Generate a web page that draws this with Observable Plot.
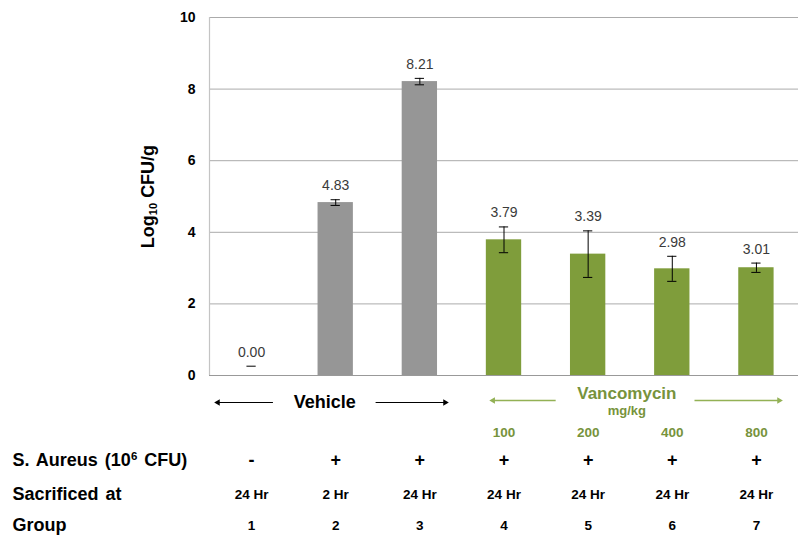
<!DOCTYPE html>
<html>
<head>
<meta charset="utf-8">
<script src="https://cdn.jsdelivr.net/npm/d3@7"></script>
<script src="https://cdn.jsdelivr.net/npm/@observablehq/plot@0.6"></script>
<style>
  html, body { margin: 0; padding: 0; background: #fff; }
  svg { font-family: "Liberation Sans", Arial, sans-serif; }
</style>
</head>
<body>
<div id="chart"></div>
<script>
// ---- data ----
const groups = [1, 2, 3, 4, 5, 6, 7];
const values = [0.00, 4.83, 8.21, 3.79, 3.39, 2.98, 3.01];
const errors = [0.26, 0.08, 0.09, 0.36, 0.65, 0.35, 0.13];
const treatment = ["Vehicle", "Vehicle", "Vehicle", "Vancomycin", "Vancomycin", "Vancomycin", "Vancomycin"];
const doses = ["", "", "", "100", "200", "400", "800"];
const infection = ["-", "+", "+", "+", "+", "+", "+"];
const sacrificed = ["24 Hr", "2 Hr", "24 Hr", "24 Hr", "24 Hr", "24 Hr", "24 Hr"];
const yTicks = [0, 2, 4, 6, 8, 10];
const rowLabels = ["S. Aureus (10^6 CFU)", "Sacrificed at", "Group"];
const yLabel = "Log10 CFU/g";

const data = groups.map((g, i) => ({
  g, value: values[i], err: errors[i], treatment: treatment[i],
  dose: doses[i], infection: infection[i], sacrificed: sacrificed[i]
}));

const GRAY = "#969696", GREEN = "#7f9d3b", GREEN_TXT = "#77933c", GREEN_ARROW = "#93b155";
const halfBar = 0.21, halfCap = 0.055;
const below = {frameAnchor: "bottom", lineAnchor: "middle", textAnchor: "middle", fontWeight: "bold"};

const chart = Plot.plot({
  width: 798,
  height: 536,
  marginLeft: 209,
  marginRight: 0,
  marginTop: 17,
  marginBottom: 161,
  style: {fontFamily: "Liberation Sans, Arial, sans-serif", background: "#fff"},
  x: {type: "linear", domain: [0.5, 7.5], axis: null},
  y: {domain: [0, 10], axis: null},
  color: {domain: ["Vehicle", "Vancomycin"], range: [GRAY, GREEN]},
  marks: [
    Plot.ruleY(yTicks.filter(t => t > 0), {stroke: "#ababab", strokeWidth: 1}),
    Plot.ruleY([0], {stroke: "#999", strokeWidth: 1.2}),
    Plot.ruleX([0.5], {stroke: "#c4c4c4", strokeWidth: 1.2}),
    Plot.axisY(yTicks, {tickSize: 0, tickPadding: 14, fontSize: 14, fontWeight: "bold", fill: "#000", label: null}),
    Plot.text([yLabel], {frameAnchor: "left", textAnchor: "middle", lineAnchor: "middle", dx: -61, rotate: -90, fontSize: 18, fontWeight: "bold", fill: "#000"}),
    Plot.rectY(data.filter(d => d.value > 0), {x1: d => d.g - halfBar, x2: d => d.g + halfBar, y: "value", fill: "treatment"}),
    Plot.ruleX(data.filter(d => d.value - d.err >= 0), {x: "g", y1: d => d.value - d.err, y2: d => d.value + d.err, stroke: "#000", strokeWidth: 1}),
    Plot.ruleY(data, {y: d => d.value + d.err, x1: d => d.g - halfCap, x2: d => d.g + halfCap, stroke: "#000", strokeWidth: 1}),
    Plot.ruleY(data.filter(d => d.value - d.err >= 0), {y: d => d.value - d.err, x1: d => d.g - halfCap, x2: d => d.g + halfCap, stroke: "#000", strokeWidth: 1}),
    Plot.text(data, {x: "g", y: d => d.value + d.err, text: d => d.value.toFixed(2), dy: -14, fontSize: 14, fill: "#3a3a3a"}),
    // Vehicle span annotation
    Plot.text(["Vehicle"], {...below, x: [1.87], dy: 27, fontSize: 18, fill: "#000"}),
    Plot.ruleY([0], {x1: 0.6, x2: 1.26, dy: 27, stroke: "#000", strokeWidth: 1}),
    Plot.ruleY([0], {x1: 2.48, x2: 3.30, dy: 27, stroke: "#000", strokeWidth: 1}),
    Plot.dot([0.6], {x: d => d, frameAnchor: "bottom", dy: 27, symbol: "triangle", rotate: -90, r: 2.4, fill: "#000"}),
    Plot.dot([3.30], {x: d => d, frameAnchor: "bottom", dy: 27, symbol: "triangle", rotate: 90, r: 2.4, fill: "#000"}),
    // Vancomycin span annotation
    Plot.text(["Vancomycin"], {...below, x: [5.46], dy: 18, fontSize: 17, fill: GREEN_TXT}),
    Plot.text(["mg/kg"], {...below, x: [5.46], dy: 35, fontSize: 13, fill: GREEN_TXT}),
    Plot.ruleY([0], {x1: 3.87, x2: 4.62, dy: 25, stroke: GREEN_ARROW, strokeWidth: 1.3}),
    Plot.ruleY([0], {x1: 6.27, x2: 7.27, dy: 25, stroke: GREEN_ARROW, strokeWidth: 1.3}),
    Plot.dot([3.87], {x: d => d, frameAnchor: "bottom", dy: 25, symbol: "triangle", rotate: -90, r: 2.4, fill: GREEN_ARROW}),
    Plot.dot([7.27], {x: d => d, frameAnchor: "bottom", dy: 25, symbol: "triangle", rotate: 90, r: 2.4, fill: GREEN_ARROW}),
    Plot.text(data.filter(d => d.dose), {...below, x: "g", text: "dose", dy: 57, fontSize: 13.5, fill: GREEN_TXT}),
    // table rows
    Plot.text(rowLabels, {frameAnchor: "bottom-left", lineAnchor: "middle", dx: -197, textAnchor: "start", fontSize: 18, fontWeight: "bold", fill: "#000"}),
    Plot.text(data, {...below, x: "g", text: "infection", dy: 85, fontSize: 18, fill: "#000"}),
    Plot.text(data, {...below, x: "g", text: "sacrificed", dy: 119, fontSize: 13.5, fill: "#000"}),
    Plot.text(data, {...below, x: "g", text: d => String(d.g), dy: 150, fontSize: 13.5, fill: "#000"})
  ]
});

document.getElementById("chart").appendChild(chart);

// Position row labels (one text element per row) and add sub/superscripts
const svg = d3.select(chart);
const rowDy = [85, 119, 150];
svg.selectAll("text").each(function () {
  const t = this.textContent;
  const idx = rowLabels.indexOf(t);
  if (idx >= 0) {
    const sel = d3.select(this);
    const tr = sel.attr("transform") || "";
    sel.attr("transform", tr.replace(/translate\(([^,]+),([^)]+)\)/, (m, a, b) => `translate(${a},${+b + rowDy[idx]})`));
    sel.style("word-spacing", "2px");
    if (t.includes("^")) {
      const [pre, rest] = t.split("^");
      const sup = rest.match(/^\d+/)[0];
      const post = rest.slice(sup.length);
      sel.text(null);
      sel.append("tspan").text(pre);
      sel.append("tspan").attr("font-size", 11.5).attr("dy", -6).text(sup);
      sel.append("tspan").attr("dy", 6).text(post);
    }
  }
  if (t === yLabel) {
    const sel = d3.select(this);
    sel.text(null);
    sel.append("tspan").text("Log");
    sel.append("tspan").attr("font-size", 11).attr("dy", 3).text("10");
    sel.append("tspan").attr("dy", -3).text(" CFU/g");
  }
});
</script>
</body>
</html>
